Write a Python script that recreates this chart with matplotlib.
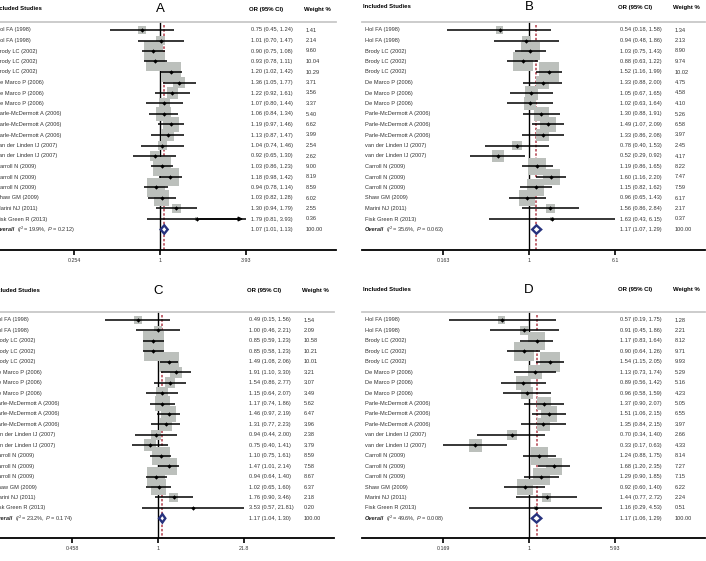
import numpy as np
import matplotlib
matplotlib.use("Agg")
import matplotlib.pyplot as plt
from matplotlib.patches import Polygon

plt.rcParams['font.family'] = ['Liberation Sans', 'DejaVu Sans']
plt.rcParams['mathtext.fontset'] = 'custom'
plt.rcParams['mathtext.rm'] = 'Liberation Sans'
plt.rcParams['mathtext.it'] = 'Liberation Sans:italic'

# data
studies = ["Hol FA (1998)", "Hol FA (1998)", "Brody LC (2002)", "Brody LC (2002)",
           "Brody LC (2002)", "De Marco P (2006)", "De Marco P (2006)", "De Marco P (2006)",
           "Parle-McDermott A (2006)", "Parle-McDermott A (2006)", "Parle-McDermott A (2006)",
           "van der Linden IJ (2007)", "van der Linden IJ (2007)", "Carroll N (2009)",
           "Carroll N (2009)", "Carroll N (2009)", "Shaw GM (2009)", "Marini NJ (2011)",
           "Fisk Green R (2013)"]

or_a = [0.75, 1.01, 0.90, 0.93, 1.20, 1.36, 1.22, 1.07, 1.06, 1.19, 1.13, 1.04, 0.92, 1.03, 1.18, 0.94, 1.03, 1.30, 1.79]
lo_a = [0.45, 0.70, 0.75, 0.78, 1.02, 1.05, 0.92, 0.80, 0.84, 0.97, 0.87, 0.74, 0.65, 0.86, 0.98, 0.78, 0.82, 0.94, 0.81]
hi_a = [1.24, 1.47, 1.08, 1.11, 1.42, 1.77, 1.61, 1.44, 1.34, 1.46, 1.47, 1.46, 1.30, 1.23, 1.42, 1.14, 1.28, 1.79, 3.93]
w_a = [1.41, 2.14, 9.60, 10.04, 10.29, 3.71, 3.56, 3.37, 5.40, 6.62, 3.99, 2.54, 2.62, 9.00, 8.19, 8.59, 6.02, 2.55, 0.36]
overall_a = [1.07, 1.01, 1.13]
het_a = ["19.9%", "0.212"]

or_b = [0.54, 0.94, 1.03, 0.88, 1.52, 1.33, 1.05, 1.02, 1.30, 1.49, 1.33, 0.78, 0.52, 1.19, 1.60, 1.15, 0.96, 1.56, 1.63]
lo_b = [0.18, 0.48, 0.75, 0.63, 1.16, 0.88, 0.67, 0.63, 0.88, 1.07, 0.86, 0.40, 0.29, 0.86, 1.16, 0.82, 0.65, 0.86, 0.43]
hi_b = [1.58, 1.86, 1.43, 1.22, 1.99, 2.00, 1.65, 1.64, 1.91, 2.09, 2.08, 1.53, 0.92, 1.65, 2.20, 1.62, 1.43, 2.84, 6.15]
w_b = [1.34, 2.13, 8.90, 9.74, 10.02, 4.75, 4.58, 4.10, 5.26, 6.58, 3.97, 2.45, 4.17, 8.22, 7.47, 7.59, 6.17, 2.17, 0.37]
overall_b = [1.17, 1.07, 1.29]
het_b = ["35.6%", "0.063"]

or_c = [0.49, 1.00, 0.85, 0.85, 1.49, 1.91, 1.54, 1.15, 1.17, 1.46, 1.31, 0.94, 0.75, 1.10, 1.47, 0.94, 1.02, 1.76, 3.53]
lo_c = [0.15, 0.46, 0.59, 0.58, 1.08, 1.10, 0.86, 0.64, 0.74, 0.97, 0.77, 0.44, 0.40, 0.75, 1.01, 0.64, 0.65, 0.90, 0.57]
hi_c = [1.56, 2.21, 1.23, 1.23, 2.06, 3.30, 2.77, 2.07, 1.86, 2.19, 2.23, 2.00, 1.41, 1.61, 2.14, 1.40, 1.60, 3.46, 21.81]
w_c = [1.54, 2.09, 10.58, 10.21, 10.01, 3.21, 3.07, 3.49, 5.62, 6.47, 3.96, 2.38, 3.79, 8.59, 7.58, 8.67, 6.37, 2.18, 0.20]
overall_c = [1.17, 1.04, 1.30]
het_c = ["23.2%", "0.174"]

or_d = [0.57, 0.91, 1.17, 0.90, 1.54, 1.13, 0.89, 0.96, 1.37, 1.51, 1.35, 0.70, 0.33, 1.24, 1.68, 1.29, 0.92, 1.44, 1.16]
lo_d = [0.19, 0.45, 0.83, 0.64, 1.15, 0.73, 0.56, 0.58, 0.90, 1.06, 0.84, 0.34, 0.17, 0.88, 1.20, 0.90, 0.60, 0.77, 0.29]
hi_d = [1.75, 1.86, 1.64, 1.26, 2.05, 1.74, 1.42, 1.59, 2.07, 2.15, 2.15, 1.40, 0.63, 1.75, 2.35, 1.85, 1.40, 2.72, 4.53]
w_d = [1.28, 2.21, 8.12, 9.71, 9.93, 5.29, 5.16, 4.23, 5.05, 6.55, 3.97, 2.66, 4.33, 8.14, 7.27, 7.15, 6.22, 2.24, 0.51]
overall_d = [1.17, 1.06, 1.29]
het_d = ["49.6%", "0.008"]

tick_max = {"A": 3.93, "B": 6.1, "C": 21.8, "D": 5.93}
tick_lbl = {"A": ["0.254", "1", "3.93"], "B": ["0.163", "1", "6.1"],
            "C": ["0.458", "1", "21.8"], "D": ["0.169", "1", "5.93"]}

W, H = 706, 561
fig = plt.figure(figsize=(W / 100, H / 100), dpi=100)

sq_col = "#bcc0bc"
red = "#b03a48"
navy = "#27327e"


def panel(letter, left, top, axis_y, row0, step, head_y, line_y, ors, lo, hi, wts, ov, het, arrow=False):
    width = 343
    ax = fig.add_axes([left / W, (H - axis_y) / H, width / W, (axis_y - top) / H])
    T = tick_max[letter]
    k = 86 / np.log(T)  # pixels per log unit
    c = 167  # pixel of OR=1 from panel left
    ax.set_xscale("log")
    ax.set_xlim(np.exp(-c / k), np.exp((width - c) / k))
    ax.set_ylim((axis_y - row0) / step, (top - row0) / step)
    for s in ["top", "left", "right"]:
        ax.spines[s].set_visible(False)
    ax.spines["bottom"].set_linewidth(1.3)
    ax.set_yticks([])
    ax.set_xticks([1 / T, 1, T])
    ax.set_xticklabels(tick_lbl[letter])
    ax.xaxis.set_minor_locator(matplotlib.ticker.NullLocator())
    ax.tick_params(axis="x", length=3.5, width=1.2, labelsize=3.8, pad=2, labelcolor="#333333")

    hl = (line_y - row0) / step
    yb = ax.get_ylim()[0]
    ax.plot([0, 1], [hl, hl], transform=ax.get_yaxis_transform(), color="#c8c8c8", lw=1.3, clip_on=False)
    ax.plot([1, 1], [hl, yb], color="black", lw=1.0, zorder=1)
    ax.plot([ov[0], ov[0]], [hl + 0.3, yb], color=red, lw=1.1, ls=(0, (1.6, 1.2)), zorder=1)

    n = len(ors)
    y = np.arange(n)
    ax.scatter(ors, y, s=np.array(wts) * 20, marker="s", color=sq_col, zorder=2, linewidths=0)
    ax.hlines(y, lo, hi, color="black", lw=1.1, zorder=3)
    ax.scatter(ors, y, s=5, marker="D", color="black", zorder=4, linewidths=0)
    if arrow:
        ax.annotate("", xy=(hi[-1], n - 1), xytext=(ors[-1], n - 1),
                    arrowprops=dict(arrowstyle="-|>", color="black", lw=1.1, mutation_scale=6), zorder=4)

    yo = n
    dia = Polygon([[ov[1], yo], [ov[0], yo - 0.4], [ov[2], yo], [ov[0], yo + 0.4]],
                  closed=True, facecolor="white", edgecolor=navy, lw=1.7, zorder=4)
    ax.add_patch(dia)

    ta = ax.get_yaxis_transform()
    fs = 4.1
    for i in range(n):
        ax.text(3 / width, i, studies[i], transform=ta, fontsize=fs, va="center", color="#333333")
        ax.text(258 / width, i, "%.2f (%.2f, %.2f)" % (ors[i], lo[i], hi[i]), transform=ta,
                fontsize=fs, va="center", color="#333333")
        ax.text(313 / width, i, "%.2f" % wts[i], transform=ta, fontsize=fs, va="center", color="#333333")
    ax.text(3 / width, yo, "Overall", transform=ta, fontsize=fs, va="center",
            fontweight="bold", fontstyle="italic", color="#222222")
    ax.text(24 / width, yo, r"($I^2$= %s, $P$ = %s)" % (het[0], het[1]), transform=ta,
            fontsize=fs, va="center", color="#333333")
    ax.text(258 / width, yo, "%.2f (%.2f, %.2f)" % (ov[0], ov[1], ov[2]), transform=ta,
            fontsize=fs, va="center", color="#333333")
    ax.text(313 / width, yo, "100.00", transform=ta, fontsize=fs, va="center", color="#333333")

    hy = (head_y - row0) / step
    ax.text(1 / width, hy, "Included Studies", transform=ta, fontsize=4.3, fontweight="bold", va="center")
    ax.text(256 / width, hy, "OR (95% CI)", transform=ta, fontsize=4.3, fontweight="bold", va="center")
    ax.text(311 / width, hy, "Weight %", transform=ta, fontsize=4.3, fontweight="bold", va="center")
    ax.text(1, hy, letter, fontsize=9.5, ha="center", va="center")
    return ax


panel("A", -7, 0, 250, 30, 10.5, 9, 22, or_a, lo_a, hi_a, w_a, overall_a, het_a, arrow=True)
panel("B", 362, 0, 250, 30, 10.5, 7, 22, or_b, lo_b, hi_b, w_b, overall_b, het_b)
panel("C", -9, 280, 538, 320, 10.44, 291, 312, or_c, lo_c, hi_c, w_c, overall_c, het_c)
panel("D", 362, 280, 538, 320, 10.44, 290, 312, or_d, lo_d, hi_d, w_d, overall_d, het_d)

fig.savefig("out.png", dpi=100, facecolor="white")
